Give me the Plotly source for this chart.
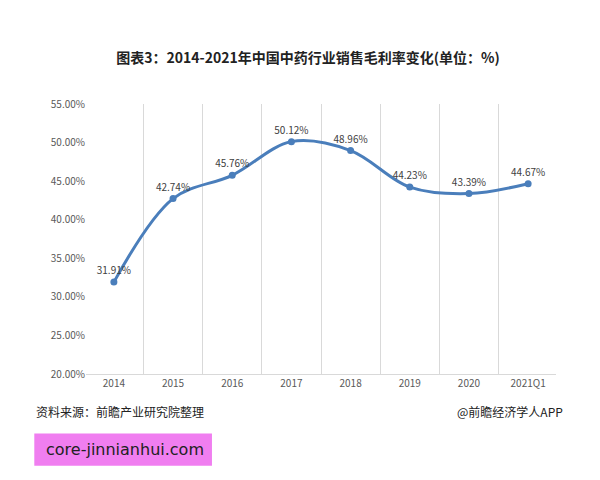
import plotly.graph_objects as go

years = ["2014", "2015", "2016", "2017", "2018", "2019", "2020", "2021Q1"]
margin_pct = [31.91, 42.74, 45.76, 50.12, 48.96, 44.23, 43.39, 44.67]
labels = [f"{v:.2f}%" for v in margin_pct]
yticks = [20, 25, 30, 35, 40, 45, 50, 55]

F = "Noto Sans CJK SC"
fig = go.Figure()
fig.add_trace(go.Scatter(
    x=years, y=margin_pct, mode="lines+markers+text",
    line=dict(color="#4a7ebb", width=3, shape="spline", smoothing=1.0),
    marker=dict(color="#4a7ebb", size=7),
    text=labels, textposition="top center",
    textfont=dict(family=F, size=10, color="#404040"),
    cliponaxis=False,
))
fig.update_layout(
    width=600, height=480, paper_bgcolor="white", plot_bgcolor="white",
    margin=dict(l=78, r=52, t=96, b=114),
    showlegend=False,
    title=dict(text="<b>图表3：2014-2021年中国中药行业销售毛利率变化(单位：%)</b>",
               x=0.5, xanchor="center", y=0.895, yanchor="middle",
               font=dict(family=F, size=14, color="#222")),
    xaxis=dict(type="category", tickson="boundaries", showgrid=True, gridcolor="#d9d9d9",
               showline=True, linecolor="#d9d9d9", ticks="",
               tickfont=dict(family=F, size=10, color="#595959")),
    yaxis=dict(range=[20, 55], tickvals=yticks, ticktext=[f"{v:.2f}%" for v in yticks],
               showgrid=False, zeroline=False, showline=False,
               tickfont=dict(family=F, size=10, color="#595959")),
)
fig.add_annotation(text="资料来源：前瞻产业研究院整理", xref="paper", yref="paper",
                   x=-0.11, y=-0.14, xanchor="left", yanchor="middle", showarrow=False,
                   font=dict(family=F, size=12, color="#222"))
fig.add_annotation(text="@前瞻经济学人APP", xref="paper", yref="paper",
                   x=1.02, y=-0.14, xanchor="right", yanchor="middle", showarrow=False,
                   font=dict(family=F, size=12, color="#222"))
fig.add_shape(type="rect", xref="paper", yref="paper", x0=-0.11, x1=0.268, y0=-0.34, y1=-0.22,
              fillcolor="#f07ef0", line=dict(width=0), layer="above")
fig.add_annotation(text="core-jinnianhui.com", xref="paper", yref="paper",
                   x=-0.09, y=-0.28, xanchor="left", yanchor="middle", showarrow=False,
                   font=dict(family="DejaVu Sans", size=16, color="#222"))
fig.write_html("out.html")
